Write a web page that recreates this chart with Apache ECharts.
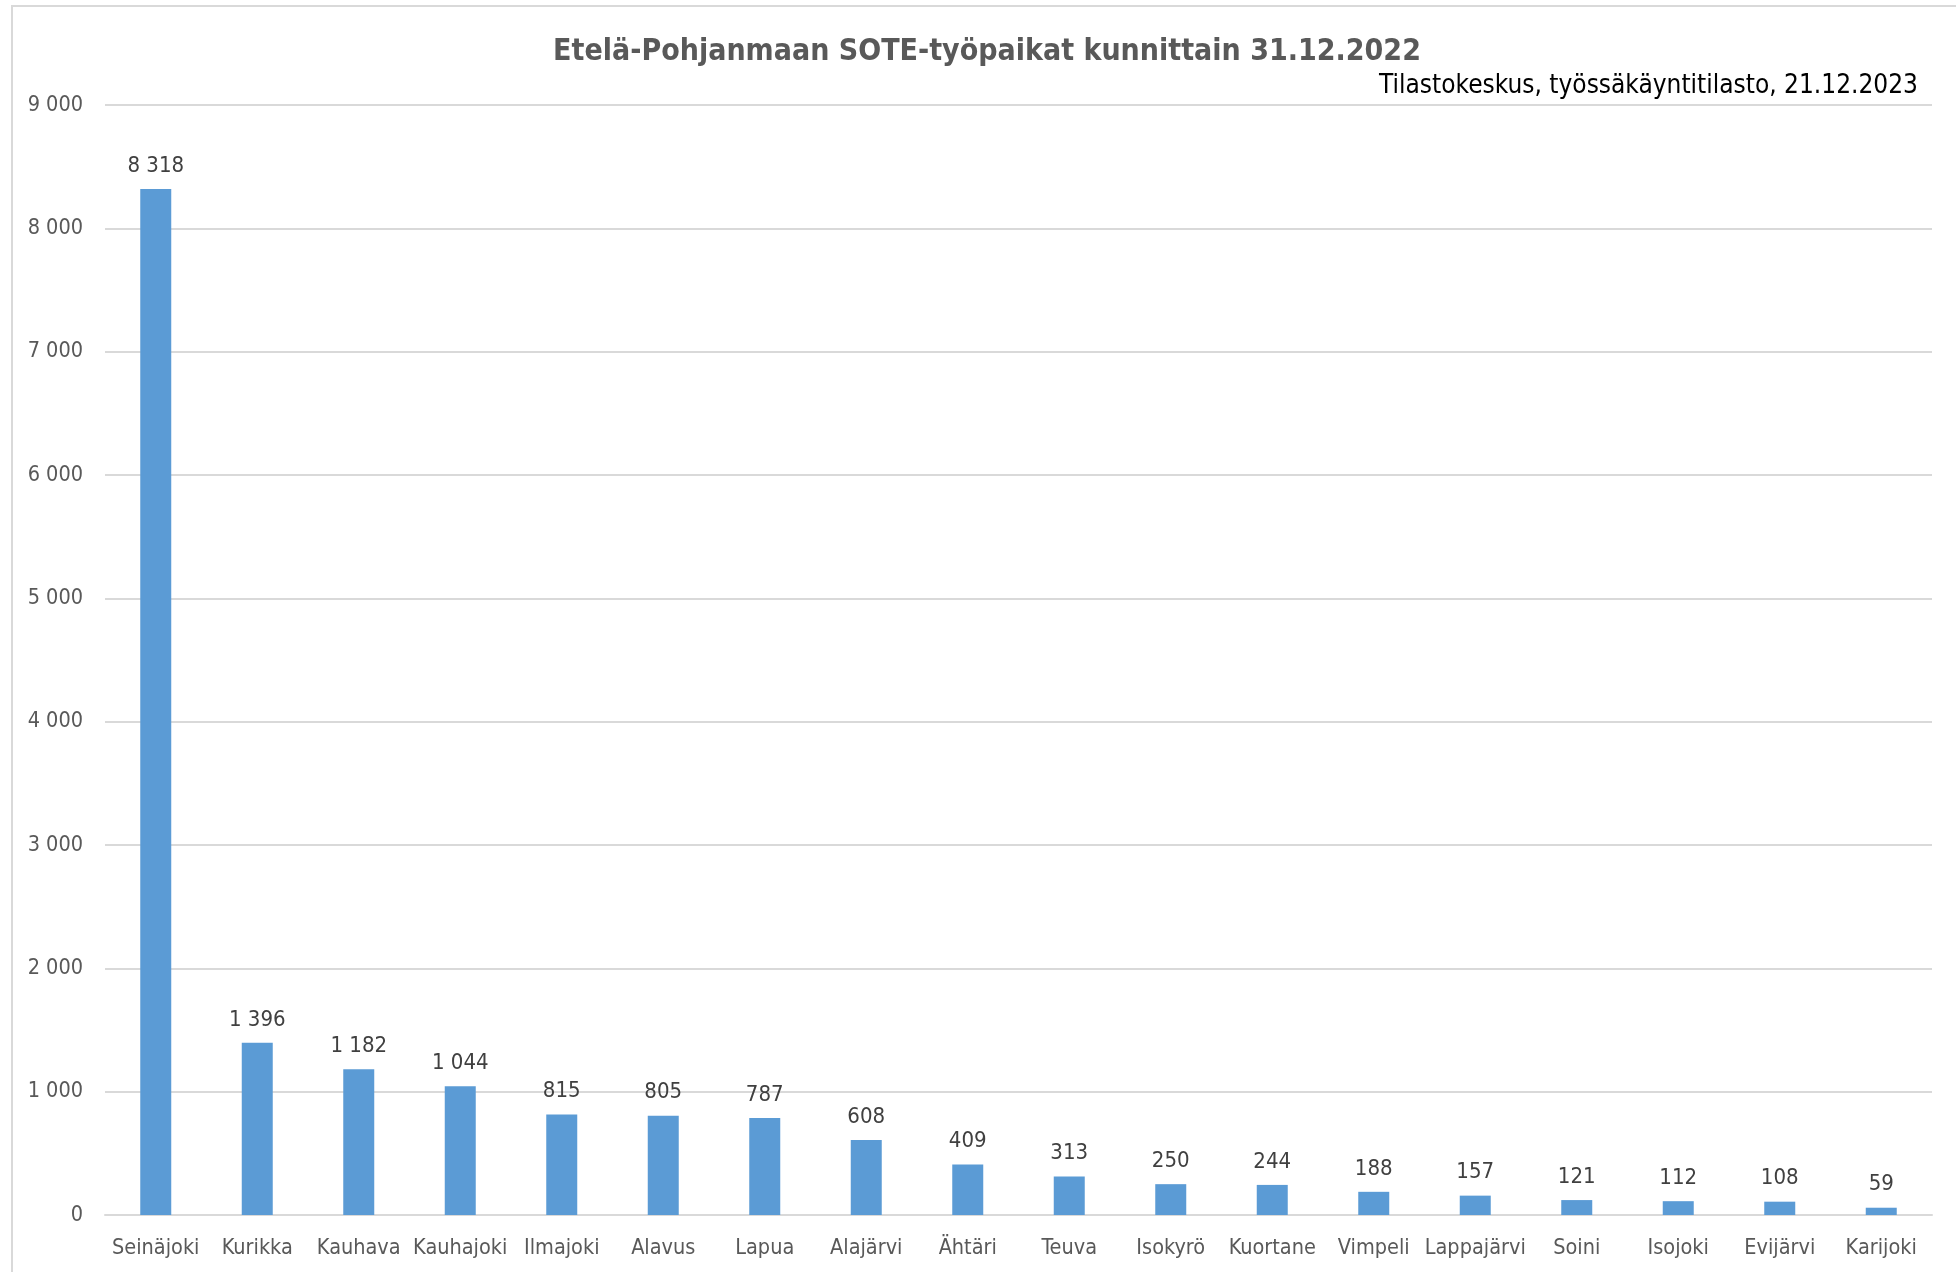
<!DOCTYPE html>
<html>
<head>
<meta charset="utf-8">
<script src="https://cdn.jsdelivr.net/npm/echarts@6/dist/echarts.min.js"></script>
<style>html,body{margin:0;padding:0;background:#fff}#c{width:1956px;height:1272px}</style>
</head>
<body>
<div id="c"></div>
<script>
const titleText = 'Etelä-Pohjanmaan SOTE-työpaikat kunnittain 31.12.2022';
const sourceText = 'Tilastokeskus, työssäkäyntitilasto, 21.12.2023';
const categories = ['Seinäjoki','Kurikka','Kauhava','Kauhajoki','Ilmajoki','Alavus','Lapua','Alajärvi','Ähtäri','Teuva','Isokyrö','Kuortane','Vimpeli','Lappajärvi','Soini','Isojoki','Evijärvi','Karijoki'];
const values = [8318,1396,1182,1044,815,805,787,608,409,313,250,244,188,157,121,112,108,59];
const yMin = 0, yMax = 9000, yStep = 1000;

const FONT = '"Liberation Sans Narrow", "DejaVu Sans Condensed", sans-serif';
function fmt(v){ return String(v).replace(/\B(?=(\d{3})+(?!\d))/g, ' '); }

const chart = echarts.init(document.getElementById('c'));
chart.setOption({
  animation: false,
  backgroundColor: '#fff',
  graphic: [{
    type: 'rect', shape: {x: 12, y: 6, width: 1960, height: 1300},
    style: {fill: 'none', stroke: '#d9d9d9', lineWidth: 2}, silent: true, z: -1
  }],
  title: [{
    text: titleText, left: 982, top: 32, textAlign: 'center',
    textStyle: {fontFamily: FONT, fontSize: 30, fontWeight: 'bold', color: '#595959'}
  }, {
    text: sourceText, right: 33, top: 68,
    textStyle: {fontFamily: FONT, fontSize: 26, fontWeight: 'normal', color: '#000'}
  }],
  grid: {left: 105, right: 24, top: 105, bottom: 57, containLabel: false},
  xAxis: {
    type: 'category', data: categories,
    axisLine: {show: true, lineStyle: {color: '#d9d9d9', width: 2}},
    axisTick: {show: false},
    axisLabel: {fontFamily: FONT, fontSize: 21.5, color: '#595959', margin: 22, interval: 0}
  },
  yAxis: {
    type: 'value', min: yMin, max: yMax, interval: yStep,
    axisLine: {show: false}, axisTick: {show: false},
    splitLine: {lineStyle: {color: '#d9d9d9', width: 2}},
    axisLabel: {fontFamily: FONT, fontSize: 21.5, color: '#595959', margin: 22, formatter: v => fmt(v)}
  },
  series: [{
    type: 'bar', data: values, barWidth: 31,
    itemStyle: {color: '#5b9bd5'},
    label: {show: true, position: 'top', distance: 12, fontFamily: FONT, fontSize: 22, color: '#404040',
      formatter: p => fmt(p.value)}
  }]
});
</script>
</body>
</html>
